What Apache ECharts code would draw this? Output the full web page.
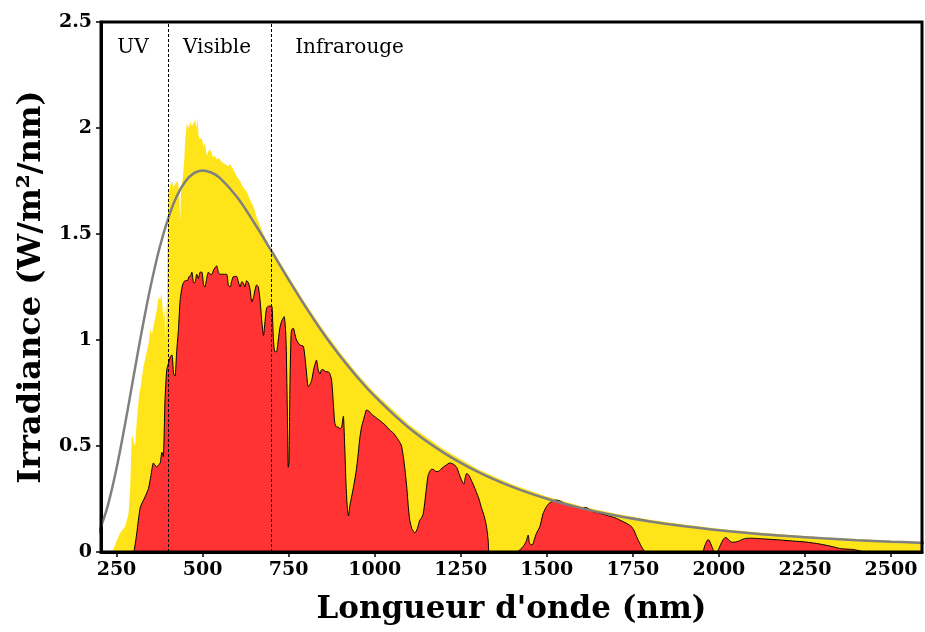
<!DOCTYPE html>
<html><head><meta charset="utf-8">
<script src="https://cdn.jsdelivr.net/npm/echarts@6/dist/echarts.min.js"></script>
<style>html,body{margin:0;padding:0;background:#fff}#c{width:925px;height:632px}</style>
</head><body><div id="c"></div>
<script>
// ---- data (wavelength nm, irradiance W/m2/nm) ----
const xTicks = [250, 500, 750, 1000, 1250, 1500, 1750, 2000, 2250, 2500];
const regionNames = ['UV', 'Visible', 'Infrarouge'];
const regionX = [298, 542, 927];
const regionBounds = [400, 700];

const topOfAtmosphere = [[237,0],[250,0.05],[260,0.088],[275,0.12],[285,0.18],[290,0.31],[294,0.53],[296,0.55],[300,0.52],[304,0.50],[309,0.62],[315,0.73],[322,0.80],[328,0.87],[333,0.91],[343,0.98],[348,1.05],[353,1.03],[358,1.07],[362,1.10],[367,1.14],[372,1.20],[377,1.19],[381,1.22],[384,1.15],[386,1.10],[389,1.16],[392,1.00],[394,1.20],[396,1.05],[398,1.45],[401,1.70],[406,1.73],[411,1.75],[416,1.72],[422,1.74],[428,1.75],[432,1.70],[435,1.56],[438,1.72],[443,1.77],[447,1.85],[449,1.93],[452,1.98],[454,2.02],[460,2.00],[465,2.03],[469,2.01],[474,2.02],[478,2.04],[482,2.00],[485,2.05],[488,1.97],[491,1.95],[498,1.95],[503,1.91],[507,1.93],[512,1.87],[517,1.89],[522,1.90],[527,1.88],[531,1.86],[536,1.87],[541,1.85],[546,1.86],[551,1.85],[556,1.84],[560,1.84],[565,1.83],[570,1.83],[575,1.82],[580,1.83],[587,1.81],[594,1.79],[600,1.77],[609,1.75],[618,1.72],[628,1.70],[638,1.66],[648,1.63],[657,1.58],[667,1.54],[676,1.50],[686,1.47],[695,1.44],[701,1.43],[750,1.30],[800,1.17],[850,1.05],[900,0.94],[950,0.84],[1000,0.75],[1100,0.60],[1200,0.485],[1300,0.39],[1400,0.318],[1500,0.262],[1600,0.216],[1700,0.18],[1800,0.152],[1900,0.13],[2000,0.110],[2100,0.094],[2200,0.081],[2300,0.070],[2400,0.061],[2500,0.053],[2600,0.047]];

const seaLevel = [[290,0],[299,0],[309,0.09],[319,0.21],[333,0.26],[343,0.30],[350,0.36],[357,0.42],[362,0.41],[367,0.40],[372,0.41],[377,0.42],[382,0.47],[386,0.45],[391,0.72],[396,0.86],[401,0.89],[406,0.92],[411,0.93],[416,0.84],[420,0.83],[425,0.95],[430,1.05],[435,1.19],[442,1.26],[449,1.28],[456,1.28],[461,1.30],[464,1.30],[469,1.32],[474,1.27],[478,1.27],[483,1.31],[488,1.29],[493,1.32],[498,1.32],[503,1.26],[507,1.25],[512,1.29],[517,1.32],[522,1.31],[527,1.31],[532,1.33],[536,1.34],[541,1.35],[546,1.32],[551,1.31],[556,1.31],[563,1.31],[570,1.31],[575,1.26],[580,1.25],[585,1.28],[590,1.30],[595,1.30],[599,1.30],[604,1.275],[609,1.25],[614,1.275],[618,1.27],[623,1.25],[628,1.28],[633,1.27],[638,1.24],[643,1.18],[648,1.20],[653,1.24],[657,1.26],[662,1.25],[667,1.19],[672,1.09],[677,1.02],[681,1.08],[686,1.15],[692,1.16],[701,1.16],[704,1.08],[706,1.00],[710,0.945],[715,0.945],[720,1.00],[725,1.06],[730,1.09],[737,1.11],[741,1.05],[743,0.97],[746,0.70],[749,0.40],[751,0.42],[754,0.80],[757,1.02],[759,1.05],[764,1.055],[768,1.03],[773,1.00],[783,0.976],[793,0.97],[800,0.88],[807,0.78],[812,0.79],[817,0.81],[824,0.87],[831,0.905],[836,0.86],[841,0.84],[846,0.86],[851,0.86],[858,0.85],[865,0.85],[870,0.84],[875,0.81],[880,0.70],[884,0.61],[889,0.59],[894,0.59],[899,0.58],[904,0.59],[909,0.64],[913,0.50],[917,0.31],[921,0.20],[924,0.17],[928,0.22],[933,0.26],[940,0.32],[947,0.39],[952,0.46],[957,0.54],[962,0.59],[967,0.62],[972,0.65],[976,0.67],[983,0.665],[991,0.65],[1003,0.635],[1015,0.62],[1030,0.60],[1044,0.575],[1055,0.56],[1064,0.54],[1072,0.52],[1078,0.50],[1085,0.43],[1093,0.31],[1098,0.21],[1102,0.15],[1108,0.11],[1117,0.09],[1124,0.11],[1131,0.15],[1136,0.16],[1141,0.18],[1146,0.24],[1151,0.31],[1155,0.36],[1160,0.38],[1165,0.39],[1170,0.39],[1178,0.38],[1185,0.38],[1192,0.39],[1199,0.40],[1208,0.41],[1218,0.42],[1228,0.415],[1238,0.40],[1245,0.37],[1252,0.34],[1259,0.32],[1263,0.35],[1267,0.37],[1272,0.365],[1276,0.355],[1286,0.32],[1296,0.28],[1303,0.25],[1310,0.21],[1318,0.17],[1325,0.12],[1330,0.05],[1333,0],[1412,0],[1431,0.025],[1440,0.05],[1446,0.08],[1450,0.04],[1458,0.033],[1464,0.06],[1470,0.088],[1480,0.12],[1489,0.18],[1499,0.214],[1507,0.23],[1514,0.237],[1521,0.243],[1528,0.245],[1536,0.242],[1543,0.237],[1550,0.23],[1557,0.222],[1565,0.219],[1572,0.217],[1580,0.215],[1586,0.214],[1596,0.21],[1606,0.206],[1611,0.21],[1616,0.209],[1625,0.2],[1635,0.19],[1650,0.184],[1664,0.178],[1680,0.17],[1693,0.164],[1703,0.158],[1712,0.151],[1722,0.143],[1732,0.135],[1740,0.127],[1746,0.12],[1754,0.1],[1761,0.072],[1768,0.048],[1775,0.025],[1781,0.01],[1787,0],[1952,0],[1958,0.025],[1963,0.045],[1968,0.058],[1972,0.055],[1976,0.04],[1980,0.025],[1984,0.008],[1987,0.002],[1994,0.002],[1999,0.012],[2003,0.028],[2008,0.045],[2013,0.06],[2018,0.068],[2023,0.066],[2028,0.058],[2033,0.05],[2040,0.046],[2048,0.047],[2060,0.053],[2074,0.063],[2093,0.065],[2137,0.061],[2176,0.057],[2214,0.052],[2253,0.047],[2292,0.038],[2331,0.025],[2350,0.017],[2369,0.014],[2389,0.012],[2408,0.006],[2422,0.001],[2430,0],[2438,0.004],[2444,0],[2600,0]];

const bbWavelength = [190,200,205,225,250,275,300,325,350,375,400,425,450,475,500,525,550,600,650,700,750,800,850,900,950,1000,1100,1200,1300,1400,1500,1600,1700,1800,1900,2000,2100,2200,2300,2400,2500,2600];
const bbValue = [0.067,0.0996,0.119,0.220,0.394,0.604,0.831,1.055,1.259,1.434,1.573,1.678,1.748,1.787,1.800,1.790,1.765,1.675,1.553,1.420,1.285,1.155,1.033,0.923,0.824,0.735,0.585,0.469,0.378,0.307,0.251,0.207,0.172,0.144,0.121,0.103,0.0875,0.075,0.0647,0.056,0.0487,0.0426];

// ---- chart ----
const chart = echarts.init(document.getElementById('c'), null, {renderer: 'canvas'});
const tickFont = {fontFamily: 'DejaVu Serif', fontWeight: 'bold', fontSize: 19, color: '#000'};
const titleFont = {fontFamily: 'DejaVu Serif', fontWeight: 'bold', fontSize: 31, color: '#000'};
const plain = v => String(v);

chart.setOption({
  animation: false,
  backgroundColor: '#fff',
  grid: {left: 101, right: 3, top: 22, bottom: 80, show: true, borderColor: '#000', borderWidth: 3, backgroundColor: 'transparent', z: 10},
  xAxis: {
    type: 'value', min: 205, max: 2590,
    name: 'Longueur d\'onde (nm)', nameLocation: 'middle', nameGap: 42, nameTextStyle: titleFont,
    axisLine: {show: true, lineStyle: {color: '#000', width: 3}},
    axisTick: {show: true, length: 5, customValues: xTicks, lineStyle: {color: '#000', width: 1.5}},
    axisLabel: Object.assign({customValues: xTicks, margin: 9, formatter: plain}, tickFont),
    splitLine: {show: false}
  },
  yAxis: {
    type: 'value', min: 0, max: 2.5, interval: 0.5,
    name: 'Irradiance (W/m²/nm)', nameLocation: 'middle', nameGap: 52, nameTextStyle: Object.assign({}, titleFont, {fontSize: 32}),
    axisLine: {show: true, lineStyle: {color: '#000', width: 3}},
    axisTick: {show: true, length: 5, lineStyle: {color: '#000', width: 1.5}},
    axisLabel: Object.assign({margin: 9, formatter: plain}, tickFont),
    splitLine: {show: false}
  },
  series: [
    {type: 'line', name: 'top', data: topOfAtmosphere, showSymbol: false, silent: true, z: 1,
     lineStyle: {width: 0, color: '#FFE41A'}, itemStyle: {color: '#FFE41A'}, areaStyle: {color: '#FFE41A', opacity: 1}},
    {type: 'line', name: 'sea', data: seaLevel, showSymbol: false, silent: true, smooth: 0.2, z: 2,
     lineStyle: {width: 1, color: '#000'}, itemStyle: {color: '#FF3333'}, areaStyle: {color: '#FF3333', opacity: 1}},
    {type: 'line', name: 'bb', data: bbWavelength.map((w, i) => [w, bbValue[i]]), showSymbol: false, silent: true, smooth: 0.4, z: 3,
     lineStyle: {width: 2.5, color: '#808080'}, itemStyle: {color: '#808080'}},
    {type: 'line', name: 'bounds', data: [], z: 4, silent: true,
     markLine: {silent: true, symbol: ['none', 'none'], label: {show: false},
       lineStyle: {type: [3, 2], color: '#000', width: 1},
       data: regionBounds.map(v => ({xAxis: v}))}},
    {type: 'scatter', name: 'labels', symbolSize: 0, silent: true, z: 5,
     data: regionNames.map((n, i) => ({value: [regionX[i], 2.38], name: n})),
     itemStyle: {color: '#000', opacity: 1},
     label: {show: true, position: 'inside', formatter: p => p.name, fontFamily: 'DejaVu Serif', fontSize: 20, color: '#000', opacity: 1, textBorderWidth: 0}}
  ]
});
</script></body></html>
